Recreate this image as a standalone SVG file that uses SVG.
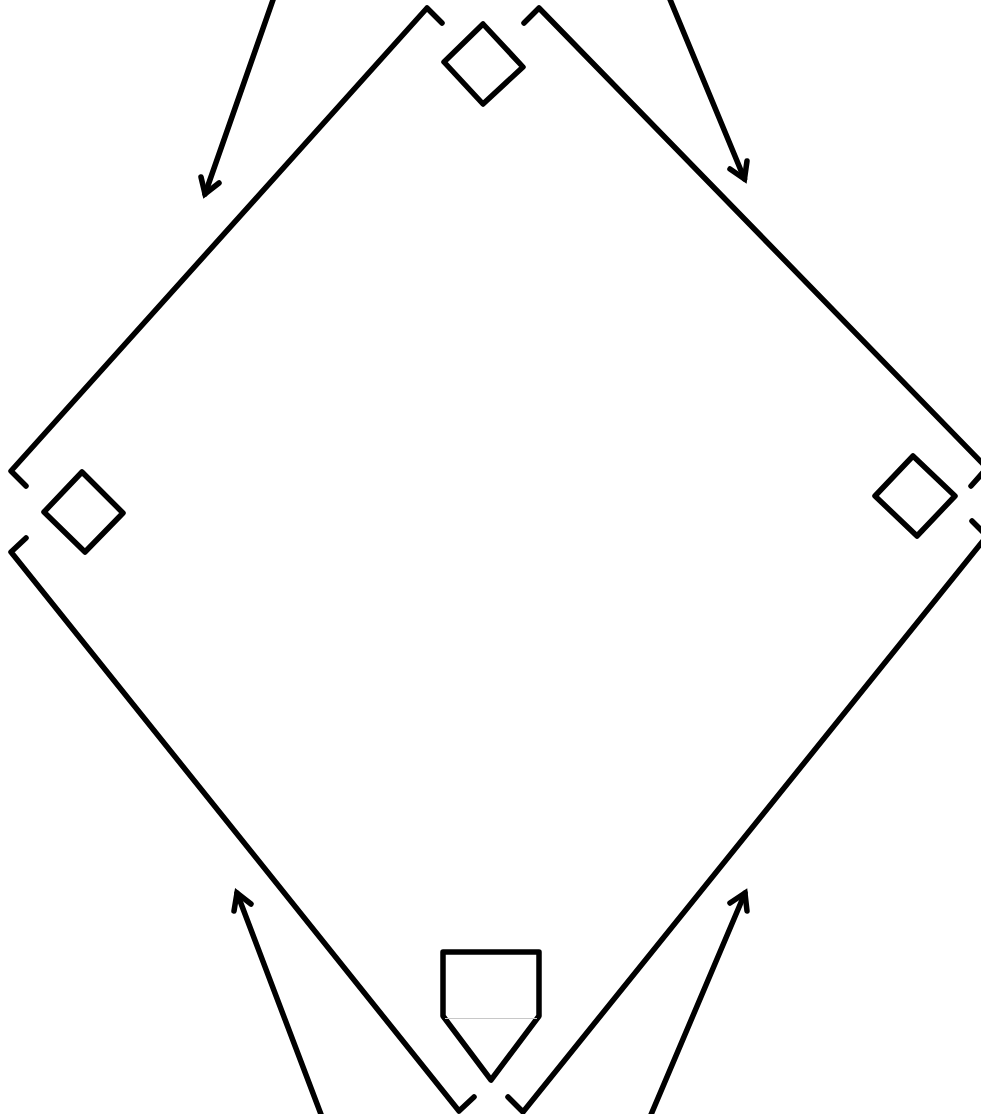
<svg xmlns="http://www.w3.org/2000/svg" width="981" height="1114" viewBox="0 0 981 1114">
<style>
.s{fill:none;stroke:#000;stroke-width:5.500;stroke-linejoin:round;stroke-linecap:round}
.a{fill:none;stroke:#000;stroke-width:5.500;stroke-linejoin:miter;stroke-miterlimit:8;stroke-linecap:round}
.b{fill:#fff;stroke:#000;stroke-width:5.500;stroke-linejoin:round;stroke-linecap:round}
</style>
<rect width="981" height="1114" fill="#fff"/>
<g id="connectors">
<path class="a" d="M274 -3L205 194"/><path class="a" d="M201 177L205 194L219 183"/>
<path class="a" d="M669 -3L744.500 179"/><path class="a" d="M747 161L744.500 179L730 169"/>
<path class="a" d="M322 1117L237 893"/><path class="a" d="M234 911L237 893L251 904"/>
<path class="a" d="M650 1117L745 893"/><path class="a" d="M747 911L745 893L730 903"/>
</g>
<g id="baseline-top-left"><path class="s" d="M442 23L427 8L11 471L26 486"/></g>
<g id="baseline-top-right"><path class="s" d="M524 23L539 8L987 468L971 486"/></g>
<g id="baseline-bottom-left"><path class="s" d="M26 538L11 552L459 1111L474 1097"/></g>
<g id="baseline-bottom-right"><path class="s" d="M972 521L987 536L523 1112L508 1097"/></g>
<g id="second-base"><path class="b" d="M483 24L523 67L483 104L444 62Z"/></g>
<g id="third-base"><path class="b" d="M82 472L123 513L85 552L44 512Z"/></g>
<g id="first-base"><path class="b" d="M913 456L955 496L917 536L875 496Z"/></g>
<g id="home-plate">
<path class="b" d="M443 952H539V1016L491 1080L443 1016Z"/>
<path d="M445 1018.500H537" stroke="#c8c8c8" stroke-width="1" fill="none"/>
</g>
</svg>
